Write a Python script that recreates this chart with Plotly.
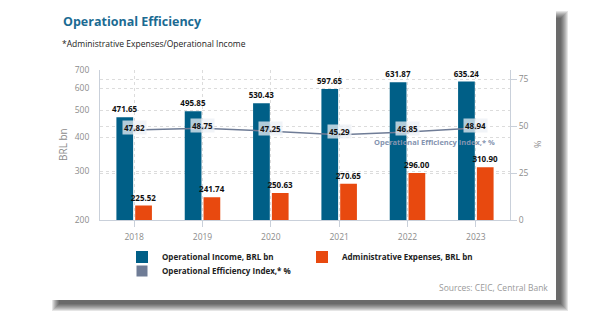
import math
import plotly.graph_objects as go

# ---- data -------------------------------------------------------------
years = ["2018", "2019", "2020", "2021", "2022", "2023"]
op_income = [471.65, 495.85, 530.43, 597.65, 631.87, 635.24]      # BRL bn
admin_exp = [225.52, 241.74, 250.63, 270.65, 296.00, 310.90]      # BRL bn
eff_index = [47.82, 48.75, 47.25, 45.29, 46.85, 48.94]            # %
left_ticks = [200, 300, 400, 500, 600, 700]
right_ticks = [0, 25, 50, 75]

# ---- style ------------------------------------------------------------
BLUE = "#005f87"
ORANGE = "#e8490f"
SLATE = "#6f7c96"
TITLE_BLUE = "#1b6b93"
GRID = "#dcdcdc"
AXIS = "#c9d0da"
TICK_TXT = "#8c8c8c"
FONT = "Open Sans"

W, H = 608, 323
PL, PR, PT, PB = 100, 510, 70, 220   # plot box in pixels


def px_x(px):
    return (px - PL) / (PR - PL)


def px_y(py):
    return (PB - py) / (PB - PT)


fig = go.Figure()

label_font = dict(family=FONT, size=8, color="#111111", weight="bold")

fig.add_bar(
    x=years, y=op_income, name="<b>Operational Income, BRL bn</b>",
    marker=dict(color=BLUE, line=dict(width=0)),
    text=[f"{v:.2f}" for v in op_income], textposition="outside",
    textfont=label_font, constraintext="none",
    cliponaxis=False, legend="legend",
)
fig.add_bar(
    x=years, y=admin_exp, name="<b>Administrative Expenses, BRL bn</b>",
    marker=dict(color=ORANGE, line=dict(width=0)),
    text=[f"{v:.2f}" for v in admin_exp], textposition="outside",
    textfont=label_font, constraintext="none",
    cliponaxis=False, legend="legend2",
)
fig.add_scatter(
    x=years, y=eff_index, yaxis="y2", mode="lines+markers",
    name="Operational Efficiency Index,* %",
    line=dict(color=SLATE, width=1.5),
    marker=dict(size=4, color=SLATE),
    showlegend=False,
)
# square swatch for the index series in its own legend
fig.add_scatter(
    x=[None], y=[None], yaxis="y2", mode="markers",
    name="<b>Operational Efficiency Index,* %</b>",
    marker=dict(symbol="square", size=11, color=SLATE),
    legend="legend3",
)

annotations = []
for i, v in enumerate(eff_index):
    annotations.append(dict(
        x=i, y=v, xref="x", yref="y2", text=f"<b>{v:.2f}</b>", showarrow=False,
        xanchor="center", yanchor="middle", yshift=3,
        font=dict(family=FONT, size=8, color="#111111"),
        bgcolor="rgba(236,240,245,0.75)", borderpad=1,
    ))

annotations += [
    dict(x=px_x(434), y=px_y(142), xref="paper", yref="paper",
         xanchor="center", yanchor="middle",
         text="<b>Operational Efficiency Index,* %</b>", showarrow=False,
         font=dict(family=FONT, size=7.5, color="#8594b0")),
    dict(x=px_x(61), y=px_y(22), xref="paper", yref="paper",
         xanchor="left", yanchor="middle",
         text="<b>Operational Efficiency</b>", showarrow=False,
         font=dict(family=FONT, size=12.5, color=TITLE_BLUE)),
    dict(x=px_x(60), y=px_y(43), xref="paper", yref="paper",
         xanchor="left", yanchor="middle",
         text="*Administrative Expenses/Operational Income", showarrow=False,
         font=dict(family=FONT, size=8.5, color="#222222")),
    dict(x=px_x(550), y=px_y(287), xref="paper", yref="paper",
         xanchor="right", yanchor="middle",
         text="Sources: CEIC, Central Bank", showarrow=False,
         font=dict(family=FONT, size=8.5, color="#9a9a9a")),
    dict(x=px_x(63), y=px_y(145), xref="paper", yref="paper",
         xanchor="center", yanchor="middle",
         text="BRL bn", textangle=-90, showarrow=False,
         font=dict(family=FONT, size=10, color="#8c8c8c")),
    dict(x=px_x(537), y=px_y(145), xref="paper", yref="paper",
         xanchor="center", yanchor="middle",
         text="%", textangle=-90, showarrow=False,
         font=dict(family=FONT, size=9, color="#8c8c8c")),
]

# card with a soft drop shadow
shapes = []
for s in range(-3, 5):
    shapes.append(dict(
        type="rect", xref="paper", yref="paper", layer="below",
        x0=px_x(56 - s), x1=px_x(564 + s), y0=px_y(307 + s), y1=px_y(15 - s),
        line=dict(width=0), fillcolor="rgba(0,0,0,0.1)",
    ))
shapes.append(dict(
    type="rect", xref="paper", yref="paper", layer="below",
    x0=px_x(50), x1=px_x(556), y0=px_y(300), y1=px_y(10),
    line=dict(width=0), fillcolor="white",
))

legend_common = dict(
    orientation="h", xanchor="left", yanchor="middle",
    bgcolor="rgba(0,0,0,0)", borderwidth=0,
    font=dict(family=FONT, size=8, color="#222222"),
)

fig.update_layout(
    width=W, height=H,
    margin=dict(l=PL, r=W - PR, t=PT, b=H - PB, pad=0),
    paper_bgcolor="white", plot_bgcolor="rgba(0,0,0,0)",
    barmode="group", bargap=0.45, bargroupgap=0.11,
    showlegend=True,
    legend=dict(x=px_x(122), y=px_y(257), **legend_common),
    legend2=dict(x=px_x(302), y=px_y(257), **legend_common),
    legend3=dict(x=px_x(122), y=px_y(271), **legend_common),
    xaxis=dict(
        type="category", range=[-0.5, 5.5],
        showgrid=True, gridcolor=GRID, griddash="dot", gridwidth=1,
        showline=True, linecolor=AXIS, linewidth=1,
        ticks="outside", ticklen=6, tickcolor=AXIS, ticklabelstandoff=3,
        tickfont=dict(family=FONT, size=8.5, color=TICK_TXT),
        zeroline=False,
    ),
    yaxis=dict(
        type="log", range=[math.log10(200), math.log10(700)],
        tickvals=left_ticks, ticktext=[str(t) for t in left_ticks],
        showgrid=True, gridcolor=GRID, griddash="dot", gridwidth=1,
        showline=True, linecolor=AXIS, linewidth=1,
        ticks="outside", ticklen=8, tickcolor="rgba(0,0,0,0)",
        tickfont=dict(family=FONT, size=8.5, color=TICK_TXT),
        zeroline=False,
    ),
    yaxis2=dict(
        overlaying="y", side="right", range=[0, 79.8],
        tickvals=right_ticks,
        showgrid=True, gridcolor=GRID, griddash="dot", gridwidth=1,
        showline=True, linecolor=AXIS, linewidth=1,
        ticks="outside", ticklen=6, tickcolor=AXIS,
        tickfont=dict(family=FONT, size=8.5, color=TICK_TXT),
        zeroline=False,
    ),
    annotations=annotations,
    shapes=shapes,
)

fig.write_html("out.html")
